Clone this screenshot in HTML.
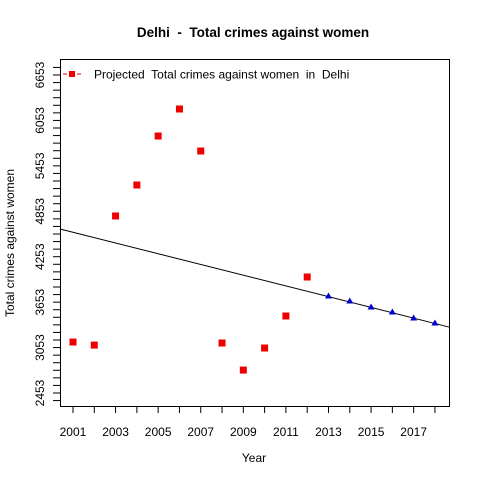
<!DOCTYPE html>
<html><head><meta charset="utf-8"><style>
html,body{margin:0;padding:0;background:#fff;}
svg{display:block;font-family:"Liberation Sans",Arial,sans-serif;}
text{white-space:pre;}
</style></head><body>
<svg id="chart" width="480" height="480" viewBox="0 0 480 480" xml:space="preserve">
<rect width="480" height="480" fill="#fff"/>
<text x="253" y="37" text-anchor="middle" font-size="13.5" font-weight="bold">Delhi  -  Total crimes against women</text>
<text x="254" y="462" text-anchor="middle" font-size="12">Year</text>
<text transform="translate(14,243) rotate(-90)" text-anchor="middle" font-size="12">Total crimes against women</text>
<rect x="60.5" y="59.5" width="389" height="347" fill="none" stroke="#000"/>
<g id="axes"></g>
<g id="marks"></g>
<g>
<line x1="63" y1="74" x2="82" y2="74" stroke="#e00" stroke-dasharray="4,3"/>
<rect x="69" y="71" width="6" height="6" fill="#e00"/>
<text x="94" y="78.5" font-size="12">Projected  Total crimes against women  in  Delhi</text>
</g>
</svg>
<script>
const years = [2001,2002,2003,2004,2005,2006,2007,2008,2009,2010,2011,2012];
const actual = [3126,3086,4791,5200,5847,6204,5649,3113,2756,3047,3470,3985];
const projYears = [2013,2014,2015,2016,2017,2018];
const projected = [3734,3668,3589,3522,3443,3377];
const xTickLabels = [2001,2003,2005,2007,2009,2011,2013,2015,2017];
const yTickLabels = [2453,3053,3653,4253,4853,5453,6053,6653];
const trendStart = [2000.39,4619];
const trendEnd = [2018.66,3324];

const NS="http://www.w3.org/2000/svg";
const X0=60,X1=449,Y0=59,Y1=406;
const xmin=2000.39,xmax=2018.66;
const yTop=6653,yTopPx=75,yBot=2453,yBotPx=393;
function xs(v){return X0+(v-xmin)/(xmax-xmin)*(X1-X0);}
function ys(v){return yBotPx-(v-yBot)/(yTop-yBot)*(yBotPx-yTopPx);}
function mk(t,a,p){const e=document.createElementNS(NS,t);for(const k in a)e.setAttribute(k,a[k]);p.appendChild(e);return e;}
const axes=document.getElementById('axes'),marks=document.getElementById('marks');
for(let y=2001;y<=2018;y++){
  const l=mk('line',{x1:xs(y),x2:xs(y),y1:406,y2:413,stroke:'#000'},axes);
  
  
}
xTickLabels.forEach(v=>{
  const t=mk('text',{x:xs(v),y:436,'text-anchor':'middle','font-size':'12'},axes);t.textContent=v;
  
  
});
for(let v=2353;v<=6753;v+=100){
  const py=ys(v); if(py<Y0||py>Y1) continue;
  const l=mk('line',{x1:53,x2:60,y1:py,y2:py,stroke:'#000'},axes);
  
  
}
yTickLabels.forEach(v=>{
  const t=mk('text',{transform:`translate(44,${ys(v)}) rotate(-90)`,'text-anchor':'middle','font-size':'12'},axes);t.textContent=v;
  
  
});
const tl=mk('line',{x1:xs(trendStart[0]),y1:ys(trendStart[1]),x2:xs(trendEnd[0]),y2:ys(trendEnd[1]),stroke:'#000'},marks);


years.forEach((y,i)=>{
  const r=mk('rect',{x:xs(y)-3.5,y:ys(actual[i])-3.5,width:7,height:7,fill:'#e00'},marks);
  
  
});
projYears.forEach((y,i)=>{
  const cx=xs(y),cy=ys(projected[i]);
  const p=mk('polygon',{points:`${cx-3.5},${cy+2.5} ${cx+3.5},${cy+2.5} ${cx},${cy-3.5}`,fill:'#00c'},marks);
  
  
});
</script>
</body></html>
